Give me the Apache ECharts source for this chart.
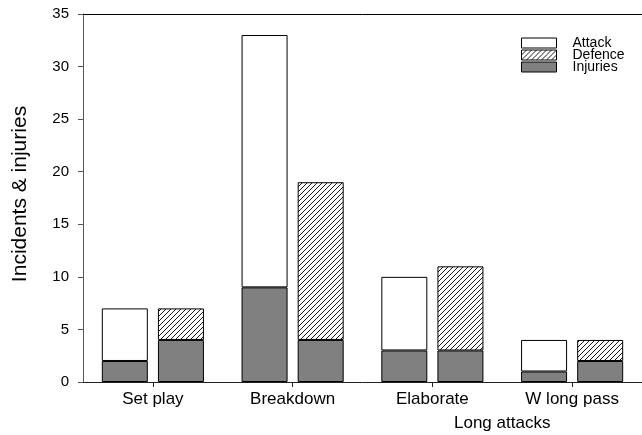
<!DOCTYPE html>
<html>
<head>
<meta charset="utf-8">
<script src="https://cdn.jsdelivr.net/npm/echarts@6/dist/echarts.min.js"></script>
<style>
  html, body { margin: 0; padding: 0; background: #fff; }
  #chart { width: 642px; height: 435px; }
</style>
</head>
<body>
<div id="chart"></div>
<script>
// Long-attack types and incident counts
const categories = ['Set play', 'Breakdown', 'Elaborate', 'W long pass'];
const attackTotal = [7, 33, 10, 4];
const attackInjuries = [2, 9, 3, 1];
const defenceTotal = [7, 19, 11, 4];
const defenceInjuries = [4, 4, 3, 2];
const yTicks = [0, 5, 10, 15, 20, 25, 30, 35];

// Remaining (non-injury) part of each bar, stacked above the injuries
const attackRest = attackTotal.map((v, i) => v - attackInjuries[i]);
const defenceRest = defenceTotal.map((v, i) => v - defenceInjuries[i]);

// Diagonal hatch tile for the defence bars
function hatchPattern() {
  const s = 5;
  const c = document.createElement('canvas');
  c.width = s; c.height = s;
  const ctx = c.getContext('2d');
  ctx.fillStyle = '#fff';
  ctx.fillRect(0, 0, s, s);
  ctx.strokeStyle = '#000';
  ctx.lineWidth = 0.9;
  ctx.beginPath();
  ctx.moveTo(0, s); ctx.lineTo(s, 0);
  ctx.moveTo(-1, 1); ctx.lineTo(1, -1);
  ctx.moveTo(s - 1, s + 1); ctx.lineTo(s + 1, s - 1);
  ctx.stroke();
  return { image: c, repeat: 'repeat' };
}

const font = 'Liberation Sans, Arial, Helvetica, sans-serif';
const chart = echarts.init(document.getElementById('chart'), null, { renderer: 'canvas' });

const barBase = {
  type: 'bar',
  barWidth: 46,
  barGap: '22%',
  animation: false
};

chart.setOption({
  animation: false,
  textStyle: { fontFamily: font, color: '#000' },
  grid: { left: 83, top: 14, width: 560, height: 368, containLabel: false },
  title: {
    text: 'Long attacks',
    left: 454,
    top: 415,
    padding: 0,
    textStyle: { fontFamily: font, fontSize: 17, fontWeight: 'normal', color: '#000' }
  },
  legend: {
    orient: 'vertical',
    left: 521,
    top: 36,
    icon: 'rect',
    itemWidth: 35,
    itemHeight: 10,
    itemGap: -2,
    padding: 0,
    selectedMode: false,
    data: ['Attack', 'Defence', 'Injuries'],
    itemStyle: { borderColor: '#000', borderWidth: 1 },
    textStyle: { fontFamily: font, fontSize: 14, color: '#000', padding: [0, 0, 0, 11] }
  },
  xAxis: [
    {
      type: 'category',
      data: categories,
      position: 'bottom',
      axisLine: { lineStyle: { color: '#222', width: 1 } },
      axisTick: { show: true, alignWithLabel: true, length: 5, lineStyle: { color: '#222' } },
      axisLabel: { fontFamily: font, fontSize: 17, color: '#000', margin: 9 },
      splitLine: { show: false }
    },
    {
      type: 'category',
      data: categories,
      position: 'top',
      axisLine: { lineStyle: { color: '#000', width: 1 } },
      axisTick: { show: false },
      axisLabel: { show: false },
      splitLine: { show: false }
    }
  ],
  yAxis: {
    type: 'value',
    min: yTicks[0],
    max: yTicks[yTicks.length - 1],
    interval: 5,
    name: 'Incidents & injuries',
    nameLocation: 'middle',
    nameGap: 52,
    nameTextStyle: { fontFamily: font, fontSize: 21, color: '#000', padding: [0, 0, 0, 8] },
    axisLine: { show: true, lineStyle: { color: '#555', width: 1 } },
    axisTick: { show: true, length: 5, lineStyle: { color: '#555' } },
    axisLabel: { fontFamily: font, fontSize: 15, color: '#000', margin: 14 },
    splitLine: { show: false }
  },
  series: [
    Object.assign({}, barBase, {
      name: 'Injuries',
      stack: 'attack',
      data: attackInjuries,
      itemStyle: { color: '#808080', borderColor: '#000', borderWidth: 1 }
    }),
    Object.assign({}, barBase, {
      name: 'Attack',
      stack: 'attack',
      data: attackRest,
      itemStyle: { color: '#fff', borderColor: '#000', borderWidth: 1 }
    }),
    Object.assign({}, barBase, {
      name: 'Injuries',
      stack: 'defence',
      data: defenceInjuries,
      itemStyle: { color: '#808080', borderColor: '#000', borderWidth: 1 }
    }),
    Object.assign({}, barBase, {
      name: 'Defence',
      stack: 'defence',
      data: defenceRest,
      itemStyle: { color: hatchPattern(), borderColor: '#000', borderWidth: 1 }
    })
  ]
});
</script>
</body>
</html>
